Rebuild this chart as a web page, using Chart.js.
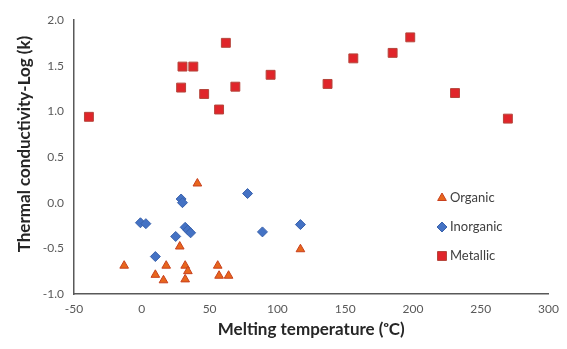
<!DOCTYPE html>
<html>
<head>
<meta charset="utf-8">
<script src="https://cdn.jsdelivr.net/npm/chart.js@4/dist/chart.umd.min.js"></script>
<style>
  html, body { margin: 0; padding: 0; background: #fff; }
  #wrap { width: 567px; height: 349px; }
</style>
</head>
<body>
<div id="wrap"><canvas id="chart" width="567" height="349"></canvas></div>
<script>
// melting temperature (°C) and log thermal conductivity
const organicTemp = [41, 28, -13, 10, 18, 16, 32, 34, 32, 56, 57, 64, 117];
const organicK    = [0.21, -0.48, -0.69, -0.79, -0.69, -0.85, -0.69, -0.75, -0.84, -0.69, -0.80, -0.80, -0.51];

const inorganicTemp = [-1, 3, 29, 30, 32, 34, 36, 25, 78, 89, 117, 10];
const inorganicK    = [-0.22, -0.23, 0.04, 0.00, -0.27, -0.30, -0.33, -0.37, 0.10, -0.32, -0.24, -0.59];

const metallicTemp = [-39, 29, 30, 38, 46, 57, 62, 69, 95, 137, 156, 185, 198, 231, 270];
const metallicK    = [0.94, 1.26, 1.49, 1.49, 1.19, 1.02, 1.75, 1.27, 1.40, 1.30, 1.58, 1.64, 1.81, 1.20, 0.92];

const seriesNames = ['Organic', 'Inorganic', 'Metallic'];
const xTicks = { min: -50, max: 300, step: 50 };
const yTicks = { min: -1, max: 2, step: 0.5 };

function toPoints(xs, ys) {
    return xs.map((x, i) => ({ x: x, y: ys[i] }));
}

const axisColor = '#595959';
const tickFont = { family: 'Lato', size: 12 };

// legend drawn inside the plot, stacked like the original
const insideLegend = {
    id: 'insideLegend',
    afterDraw(chart) {
        const ctx = chart.ctx;
        const x0 = 442, y0 = 198, gap = 29;
        chart.data.datasets.forEach((ds, i) => {
            const y = y0 + i * gap;
            ctx.save();
            ctx.fillStyle = ds.backgroundColor;
            ctx.strokeStyle = ds.borderColor;
            ctx.lineWidth = 1;
            Chart.helpers.drawPoint(ctx, {
                pointStyle: ds.pointStyle,
                radius: ds.pointRadius,
                borderWidth: 1
            }, x0, y);
            ctx.fillStyle = '#404040';
            ctx.font = '13px Lato';
            ctx.textBaseline = 'middle';
            ctx.textAlign = 'left';
            ctx.fillText(ds.label, x0 + 8, y);
            ctx.restore();
        });
    }
};

// axis titles
const axisTitles = {
    id: 'axisTitles',
    afterDraw(chart) {
        const ctx = chart.ctx;
        const area = chart.chartArea;
        ctx.save();
        ctx.fillStyle = '#262626';
        ctx.font = 'bold 17px Lato';
        ctx.textAlign = 'center';
        ctx.textBaseline = 'middle';
        ctx.fillText('Melting temperature (ᵒC)', (area.left + area.right) / 2, 330);
        ctx.translate(25, 144);
        ctx.rotate(-Math.PI / 2);
        ctx.fillText('Thermal conductivity-Log (k)', 0, 0);
        ctx.restore();
    }
};

const ctx = document.getElementById('chart').getContext('2d');
new Chart(ctx, {
    type: 'scatter',
    data: {
        datasets: [
            {
                label: seriesNames[0],
                data: toPoints(organicTemp, organicK),
                pointStyle: 'triangle',
                pointRadius: 5,
                backgroundColor: '#E8661C',
                borderColor: '#C8401E',
                borderWidth: 1
            },
            {
                label: seriesNames[1],
                data: toPoints(inorganicTemp, inorganicK),
                pointStyle: 'rectRot',
                pointRadius: 5,
                backgroundColor: '#4472C4',
                borderColor: '#3A62AC',
                borderWidth: 1
            },
            {
                label: seriesNames[2],
                data: toPoints(metallicTemp, metallicK),
                pointStyle: 'rect',
                pointRadius: 6.3,
                backgroundColor: '#E0252A',
                borderColor: '#B5453B',
                borderWidth: 1
            }
        ]
    },
    options: {
        responsive: false,
        animation: false,
        layout: { padding: { left: 0, top: 20, right: 13, bottom: 0 } },
        plugins: {
            legend: { display: false },
            tooltip: { enabled: false }
        },
        scales: {
            x: {
                type: 'linear',
                min: xTicks.min,
                max: xTicks.max,
                afterFit(scale) { scale.height = 55; },
                grid: { display: false, drawTicks: false },
                border: { display: true, color: axisColor, width: 1.5 },
                ticks: {
                    stepSize: xTicks.step,
                    color: axisColor,
                    font: tickFont,
                    padding: 8
                }
            },
            y: {
                type: 'linear',
                min: yTicks.min,
                max: yTicks.max,
                afterFit(scale) { scale.width = 74; },
                grid: { display: false, drawTicks: false },
                border: { display: true, color: axisColor, width: 1.5 },
                ticks: {
                    stepSize: yTicks.step,
                    color: axisColor,
                    font: tickFont,
                    padding: 10,
                    callback: v => v.toFixed(1)
                }
            }
        }
    },
    plugins: [insideLegend, axisTitles]
});
</script>
</body>
</html>
